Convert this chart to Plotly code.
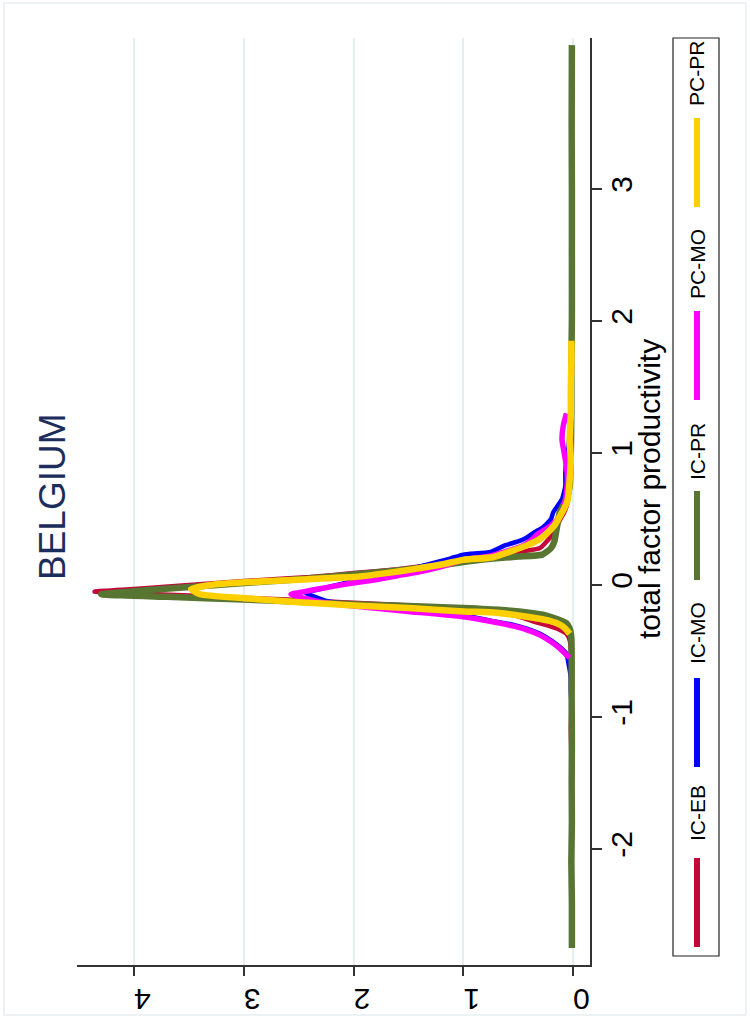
import plotly.graph_objects as go

# Kernel density estimates of total factor productivity, Belgium
series_names = ["IC-EB", "IC-MO", "IC-PR", "PC-MO", "PC-PR"]
series_colors = ["#C4063A", "#0000FF", "#587632", "#FF00FF", "#FFD000"]
series_widths = [4.5, 4.5, 6.5, 5.5, 6.5]

ic_eb_tfp = [-1.7, -1.5, -1.3, -1.1, -0.9, -0.7, -0.5, -0.42, -0.37, -0.34, -0.31, -0.28, -0.25, -0.22,
             -0.19, -0.17, -0.15, -0.13, -0.11, -0.09, -0.07, -0.05, -0.03, 0.0, 0.03, 0.06, 0.09, 0.12,
             0.16, 0.19, 0.22, 0.25, 0.28, 0.33, 0.4, 0.49, 0.55, 0.62, 0.7, 0.85, 1.0, 1.3, 1.6, 1.9, 2.2]
ic_eb_density = [0.01, 0.015, 0.015, 0.02, 0.015, 0.02, 0.02, 0.03, 0.06, 0.12, 0.22, 0.35, 0.45, 0.6,
                 0.9, 1.2, 1.6, 2.1, 2.6, 3.2, 3.8, 4.36, 4.0, 3.5, 3.0, 2.4, 2.0, 1.6,
                 1.2, 0.95, 0.72, 0.5, 0.3, 0.24, 0.17, 0.12, 0.08, 0.05, 0.04, 0.03, 0.025, 0.02, 0.015, 0.015, 0.01]

ic_mo_tfp = [-0.95, -0.8, -0.7, -0.6, -0.52, -0.47, -0.42, -0.37, -0.33, -0.3, -0.27, -0.23, -0.19, -0.15,
             -0.12, -0.09, -0.06, -0.03, 0.01, 0.05, 0.1, 0.15, 0.2, 0.23, 0.25, 0.3, 0.33, 0.36, 0.4, 0.44,
             0.5, 0.55, 0.6, 0.65, 0.75, 0.85, 0.95, 1.05, 1.2, 1.4, 1.7, 2.05]
ic_mo_density = [0.01, 0.02, 0.02, 0.04, 0.06, 0.12, 0.2, 0.3, 0.42, 0.55, 0.75, 1.0, 1.5, 2.0,
                 2.25, 2.35, 2.44, 2.3, 2.1, 1.9, 1.6, 1.35, 1.12, 1.0, 0.75, 0.62, 0.5, 0.42, 0.35, 0.27,
                 0.2, 0.18, 0.14, 0.1, 0.07, 0.07, 0.06, 0.04, 0.03, 0.02, 0.015, 0.01]

ic_pr_tfp = [-2.75, -2.4, -2.1, -1.8, -1.5, -1.2, -0.9, -0.6, -0.4, -0.33, -0.29, -0.26, -0.23, -0.21,
             -0.19, -0.175, -0.16, -0.145, -0.13, -0.11, -0.09, -0.07, -0.04, -0.01, 0.02, 0.05, 0.08, 0.11,
             0.15, 0.18, 0.2, 0.215, 0.23, 0.28, 0.33, 0.42, 0.55, 0.65, 0.75, 1.0, 1.3, 1.7, 2.0, 2.5,
             3.0, 3.5, 4.09]
ic_pr_density = [0.01, 0.01, 0.015, 0.01, 0.012, 0.01, 0.012, 0.012, 0.015, 0.03, 0.06, 0.14, 0.25, 0.4,
                 0.65, 1.0, 1.5, 2.0, 2.4, 3.0, 3.7, 4.3, 3.9, 3.4, 2.9, 2.4, 2.0, 1.6,
                 1.2, 0.95, 0.73, 0.5, 0.28, 0.2, 0.17, 0.15, 0.12, 0.06, 0.03, 0.02, 0.015, 0.015, 0.01, 0.01,
                 0.01, 0.012, 0.01]

pc_mo_tfp = [-0.55, -0.53, -0.48, -0.43, -0.38, -0.34, -0.31, -0.28, -0.24, -0.2, -0.16, -0.13, -0.1, -0.07,
             -0.05, -0.02, 0.01, 0.04, 0.07, 0.1, 0.14, 0.19, 0.22, 0.27, 0.3, 0.345, 0.38, 0.45, 0.52,
             0.6, 0.7, 0.8, 0.9, 1.0, 1.1, 1.2, 1.3]
pc_mo_density = [0.03, 0.06, 0.12, 0.2, 0.3, 0.42, 0.55, 0.72, 1.0, 1.5, 2.0, 2.3, 2.45, 2.57,
                 2.45, 2.25, 2.05, 1.8, 1.6, 1.4, 1.2, 1.0, 0.75, 0.55, 0.45, 0.37, 0.33, 0.2, 0.12,
                 0.08, 0.06, 0.05, 0.06, 0.08, 0.1, 0.09, 0.06]

pc_pr_tfp = [-0.37, -0.33, -0.3, -0.27, -0.24, -0.21, -0.2, -0.175, -0.155, -0.13, -0.1, -0.07, -0.03, 0.0,
             0.02, 0.035, 0.05, 0.06, 0.09, 0.12, 0.155, 0.19, 0.21, 0.26, 0.3, 0.35, 0.39, 0.45, 0.52,
             0.58, 0.64, 0.7, 0.8, 0.95, 1.1, 1.3, 1.5, 1.7, 1.85]
pc_pr_density = [0.03, 0.07, 0.12, 0.22, 0.42, 0.7, 1.0, 1.5, 2.0, 2.5, 3.0, 3.4, 3.48, 3.3,
                 3.0, 2.6, 2.3, 2.0, 1.7, 1.45, 1.2, 1.0, 0.73, 0.55, 0.42, 0.3, 0.24, 0.17, 0.12,
                 0.08, 0.05, 0.04, 0.03, 0.02, 0.03, 0.02, 0.02, 0.015, 0.015]

tfp_ticks = [-2, -1, 0, 1, 2, 3]
density_ticks = [0, 1, 2, 3, 4]

series_tfp = [ic_eb_tfp, ic_mo_tfp, ic_pr_tfp, pc_mo_tfp, pc_pr_tfp]
series_density = [ic_eb_density, ic_mo_density, ic_pr_density, pc_mo_density, pc_pr_density]

W, H = 750, 1018
L, R, T, B = 77, 160, 38, 53
FONT = "Liberation Sans, Arial, sans-serif"


def px(x):
    return (x - L) / (W - L - R)


def py(y):
    return (H - B - y) / (H - T - B)


fig = go.Figure()
for name, col, lw, t, d in zip(series_names, series_colors, series_widths, series_tfp, series_density):
    fig.add_trace(go.Scatter(x=d, y=t, mode="lines", name=name,
                             line=dict(color=col, width=lw, shape="spline", smoothing=0.5),
                             showlegend=False))

fig.update_layout(
    width=W, height=H,
    margin=dict(l=L, r=R, t=T, b=B, autoexpand=False),
    paper_bgcolor="white", plot_bgcolor="white",
    font=dict(family=FONT, color="black"),
    xaxis=dict(range=[4.52, -0.155], tickvals=density_ticks, ticktext=[str(v) for v in density_ticks],
               tickangle=180, ticks="outside", ticklen=9, tickcolor="#333333", tickwidth=1.5,
               ticklabelstandoff=7, automargin=False,
               showline=True, linecolor="#333333", linewidth=1.5,
               showgrid=True, gridcolor="#E4EDEF", gridwidth=1.5, zeroline=False,
               tickfont=dict(size=30, family=FONT)),
    yaxis=dict(range=[-2.879, 4.144], side="right", tickvals=tfp_ticks,
               ticktext=[str(v) for v in tfp_ticks],
               tickangle=-90, ticks="outside", ticklen=10, tickcolor="#333333", tickwidth=1.5,
               ticklabelstandoff=-6, automargin=False,
               showline=True, linecolor="#333333", linewidth=1.5,
               showgrid=False, zeroline=False,
               tickfont=dict(size=30, family=FONT)),
)

# Chart title and axis title, rotated with the chart
fig.add_annotation(text="BELGIUM", xref="paper", yref="paper", x=px(52), y=py(497),
                   xanchor="center", yanchor="middle",
                   showarrow=False, textangle=-90, font=dict(size=37, color="#1C2D5C", family=FONT))
fig.add_annotation(text="total factor productivity", xref="paper", yref="paper", x=px(649), y=py(489),
                   xanchor="center", yanchor="middle",
                   showarrow=False, textangle=-90, font=dict(size=30, color="black", family=FONT))

# Legend: framed box with a key line and a label per series
fig.add_shape(type="rect", xref="paper", yref="paper", x0=px(673), x1=px(719), y0=py(38), y1=py(956),
              line=dict(color="#222222", width=1.2), fillcolor="white")
key_bottoms = [947, 767, 580, 400, 207]
label_centers = [813, 633, 452, 264, 74]
for name, col, kb, lc in zip(series_names, series_colors, key_bottoms, label_centers):
    fig.add_shape(type="line", xref="paper", yref="paper", x0=px(697), x1=px(697), y0=py(kb), y1=py(kb - 89),
                  line=dict(color=col, width=6))
    fig.add_annotation(text=name, xref="paper", yref="paper", x=px(697), y=py(lc), showarrow=False,
                       xanchor="center", yanchor="middle",
                       textangle=-90, font=dict(size=21, color="black", family=FONT))

# Faint outer frame of the graph region
fig.add_shape(type="rect", xref="paper", yref="paper", x0=px(4), x1=px(746), y0=py(3), y1=py(1015),
              line=dict(color="#E8F0F2", width=1.5), layer="below")

fig.write_html("out.html")
